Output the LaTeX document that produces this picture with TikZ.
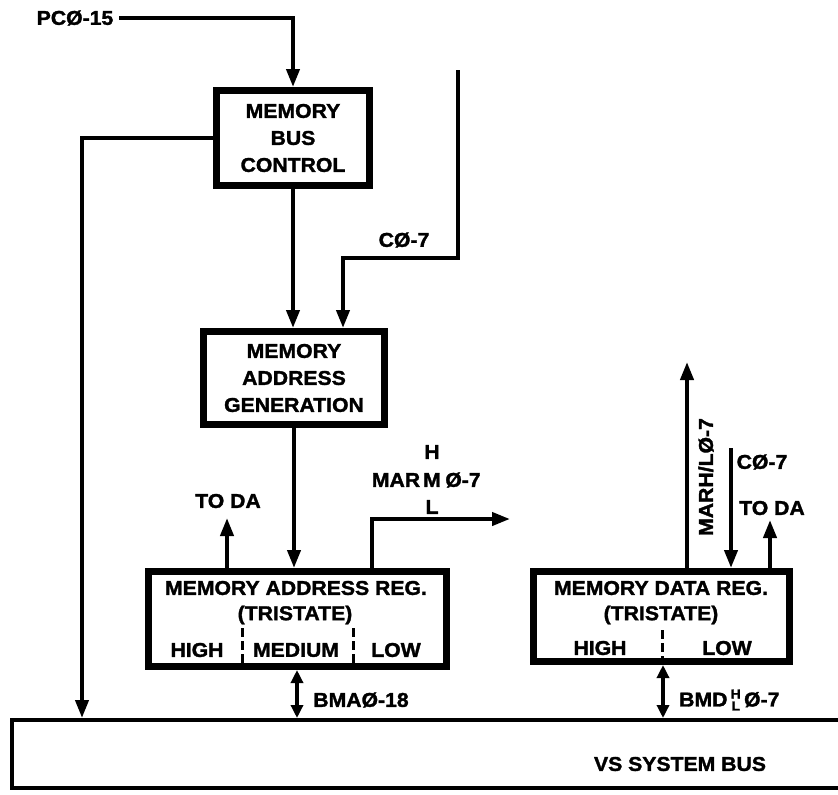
\documentclass[tikz,border=0pt]{standalone}
\usepackage{fontspec}
\setmainfont{Liberation Sans}
\newfontfamily\hvb{Liberation Sans Bold}[FakeBold=1.6,FakeStretch=1.06]
\usetikzlibrary{arrows.meta,calc}
\begin{document}
\begin{tikzpicture}[x=1pt,y=-1pt]
\tikzset{
 lbl/.style={font=\fontsize{20}{27}\selectfont\hvb, inner sep=0pt},
 blk/.style={draw, line width=7pt, inner sep=0pt, font=\fontsize{20}{27}\selectfont\hvb, align=center},
 wire/.style={line width=4pt},
 arr/.style={wire, -{Triangle[length=18pt,width=13pt]}},
 darr/.style={wire, {Triangle[length=13pt,width=12pt]}-{Triangle[length=13pt,width=12pt]}},
 dsh/.style={line width=3pt, dash pattern=on 9pt off 4pt},
}
\useasboundingbox (0,0) rectangle (838,795);
% blocks
\node[blk, minimum width=153pt, minimum height=95pt] (mbc) at (293,138) {MEMORY\\BUS\\CONTROL};
\node[blk, minimum width=181pt, minimum height=93pt] (mag) at (294,378) {MEMORY\\ADDRESS\\GENERATION};
\node[blk, minimum width=298pt, minimum height=95pt] (mar) at (297.5,619) {};
\node[blk, minimum width=256pt, minimum height=90pt] (mdr) at (661.5,616.5) {};
\node[draw, line width=4pt, minimum width=846pt, minimum height=68pt, inner sep=0pt] (bus) at (435,754) {};
% texts inside MAR
\node[lbl] (marT1) at (296,588) {MEMORY ADDRESS REG.};
\node[lbl] (marT2) at (295,615) {(TRISTATE)};
\node[lbl] (marH) at (197,650) {HIGH};
\node[lbl] (marM) at (296,650) {MEDIUM};
\node[lbl] (marL) at (396,650) {LOW};
\coordinate (d1) at (242,628);
\coordinate (d2) at (353,628);
\draw[dsh] (d1) -- (d1 |- mar.south);
\draw[dsh] (d2) -- (d2 |- mar.south);
% texts inside MDR
\node[lbl] (mdrT1) at (661,588) {MEMORY DATA REG.};
\node[lbl] (mdrT2) at (661,615) {(TRISTATE)};
\node[lbl] (mdrH) at (600,648) {HIGH};
\node[lbl] (mdrL) at (727,648) {LOW};
\coordinate (d3) at (662,630);
\draw[dsh] (d3) -- (d3 |- mdr.south);
% bus label
\node[lbl] (busL) at (680,764) {VS SYSTEM BUS};
% PC line
\node[lbl] (pc) at (75,18) {PCØ-15};
\draw[arr] ($(pc.east)+(6,0)$) -| (mbc.north);
% left line to bus
\coordinate (lft) at (82,138);
\draw[arr] (mbc.west |- lft) -- (lft) -- (lft |- bus.north);
% MBC -> MAG
\draw[arr] (mbc.south) -- (mbc.south |- mag.north);
% C0-7 top
\coordinate (c7top) at (458,70);
\coordinate (c7bend) at (343,258);
\draw[arr] (c7top) |- (c7bend) -- (c7bend |- mag.north);
\node[lbl] (c7a) at (404,240) {CØ-7};
% MAG -> MAR
\draw[arr] (mag.south) -- (mag.south |- mar.north);
% TO DA left
\coordinate (todaA) at (227,518);
\draw[arr] (todaA |- mar.north) -- (todaA);
\node[lbl] (todaAL) at (228,501) {TO DA};
% MAR HML out
\coordinate (mo1) at (372,519);
\coordinate (mo2) at (510,519);
\draw[arr] (mo1 |- mar.north) -- (mo1) -- (mo2);
\node[lbl] (marlbl) at (396,480) {MAR};
\node[lbl] (marMl) at (432,480) {M};
\node[lbl] (marHl) at (432,452) {H};
\node[lbl] (marLl) at (432,507) {L};
\node[lbl] (marz) at (463,480) {Ø-7};
% BMA
\coordinate (bma) at (297,0);
\draw[darr] (bma |- mar.south) -- (bma |- bus.north);
\node[lbl] (bmaL) at (361,700) {BMAØ-18};
% MDR arrows
\coordinate (marh) at (687,362);
\draw[arr] (marh |- mdr.north) -- (marh);
\node[lbl, rotate=90] (marhL) at (706,477) {MARH/LØ-7};
\coordinate (c7b) at (731,448);
\draw[arr] (c7b) -- (c7b |- mdr.north);
\node[lbl] (c7bL) at (762,462) {CØ-7};
\coordinate (todaB) at (770,520);
\draw[arr] (todaB |- mdr.north) -- (todaB);
\node[lbl] (todaBL) at (772,508) {TO DA};
% BMD
\coordinate (bmd) at (663,0);
\draw[darr] (bmd |- mdr.south) -- (bmd |- bus.north);
\node[lbl, anchor=west] (bmdL) at (679,700) {BMD\,\raisebox{-4pt}{\fontsize{13}{11}\selectfont\shortstack{H\\L}}\,Ø-7};
\end{tikzpicture}
\end{document}
